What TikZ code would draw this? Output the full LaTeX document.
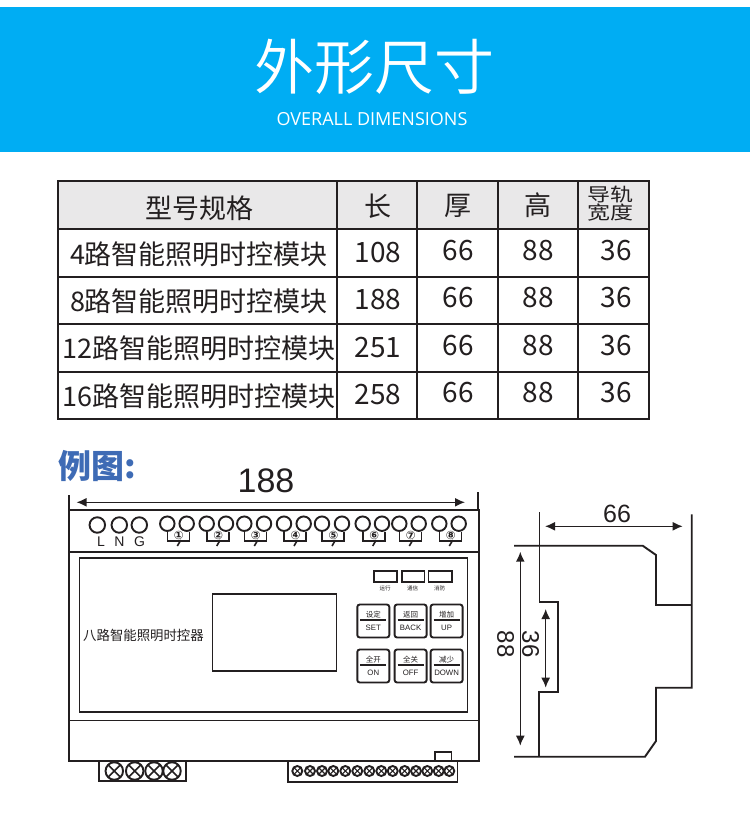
\documentclass[tikz,border=0pt]{standalone}
\usepackage{fontspec}
\usetikzlibrary{arrows.meta}
\setmainfont{Liberation Sans}
\newfontfamily\cjk{Noto Sans CJK SC}
\newfontfamily\cjklight{Noto Sans CJK SC DemiLight}
\newfontfamily\sym{DejaVu Sans}
\newfontfamily\ops{Open Sans}
\definecolor{band}{HTML}{00ADF3}
\definecolor{ink}{HTML}{231F20}
\definecolor{head}{HTML}{E9E8E9}
\definecolor{titleblue}{HTML}{3E6BB5}
\newcommand{\fs}[1]{\fontsize{#1}{#1}\selectfont}
\tikzset{
  txt/.style={inner sep=0pt,outer sep=0pt,text=ink},
  tt/.style={txt,font=\cjk\fs{27}},
  nn/.style={txt,font=\cjk\fs{28}},
  dimtxt/.style={txt,font=\fs{#1}},
  cell/.style={draw=ink,line width=2.4pt,inner sep=0pt,outer sep=0pt,anchor=north west},
  ln/.style={draw=ink,line width=1.9pt},
  thin/.style={draw=ink,line width=1.6pt},
  dimline/.style={draw=ink,line width=1.5pt,{Latex[length=10pt,width=9pt]}-{Latex[length=10pt,width=9pt]}},
  term/.style={circle,draw=ink,line width=1.9pt,inner sep=0pt,outer sep=0pt,minimum size=#1},
  box/.style={draw=ink,line width=1.9pt,inner sep=0pt,outer sep=0pt,anchor=north west},
  btn/.style={draw=ink,line width=1.9pt,rounded corners=2.5pt,inner sep=0pt,outer sep=0pt,anchor=north west,minimum width=32pt,minimum height=33pt},
  bc/.style={txt,font=\cjk\fs{7.5}},
  bl/.style={txt,font=\fs{7.8}},
  led/.style={txt,font=\cjk\fs{5.5}}
}
\begin{document}
\begin{tikzpicture}[x=1pt,y=-1pt]
\useasboundingbox (0,0) rectangle (750,839);
\fill[white] (0,0) rectangle (750,839);
\fill[band] (0,7) rectangle (750,152);
\node[txt,text=white,font=\cjklight\fs{60}] (title) at (374,67) {外形尺寸};
\node[txt,text=white,font=\ops\fs{18}] (sub) at (372,119.5) {OVERALL DIMENSIONS};
% table
\def\tcell#1#2#3#4#5#6{\node[cell,fill=#6,minimum width=#4pt,minimum height=#5pt] (#1) at (#2,#3) {};}
\foreach \n/\xx/\w in {a/58/279,b/337/80,c/417/81,d/498/80,e/578/71}{
  \tcell{\n0}{\xx}{181}{\w}{48}{head}
  \tcell{\n1}{\xx}{229}{\w}{48}{white}
  \tcell{\n2}{\xx}{277}{\w}{47}{white}
  \tcell{\n3}{\xx}{324}{\w}{48}{white}
  \tcell{\n4}{\xx}{372}{\w}{47}{white}
}
\node[tt] (h1) at (199,208) {型号规格};
\node[tt] (h2) at (378,206) {长};
\node[tt] (h3) at (458,206) {厚};
\node[tt] (h4) at (538,205) {高};
\node[txt,font=\cjk\fs{23},yscale=.8,align=center] (h5) at (610,204) {导轨\\[-.02em]宽度};
\node[tt] (r1) at (199,254) {4路智能照明时控模块};
\node[tt] (r2) at (199,301) {8路智能照明时控模块};
\node[tt] (r3) at (199,348) {12路智能照明时控模块};
\node[tt] (r4) at (199,396) {16路智能照明时控模块};
\foreach \i/\yy/\l in {1/253/108,2/300/188,3/348/251,4/395/258}{
  \node[nn] (l\i) at (378,\yy) {\l};
  \node[nn] (t\i) at (458,\yy-2) {66};
  \node[nn] (g\i) at (538,\yy-2) {88};
  \node[nn] (w\i) at (616,\yy-2) {36};
}
% example heading
\node[txt,text=titleblue,font=\cjk\bfseries\fs{33}] (ex) at (97,466) {例图:};
% front view
\node[box,minimum width=410pt,minimum height=251pt] (body) at (69,510) {};
\draw[ln] (69,552) -- (479,552);
\draw[ln] (69,720.5) -- (479,720.5);
\node[box,minimum width=388pt,minimum height=154pt] (panel) at (79.5,558) {};
\node[box,minimum width=124pt,minimum height=77pt] (screen) at (212.5,594) {};
\node[txt,font=\cjk\fs{13.4}] (name) at (143.5,635) {八路智能照明时控器};
% top dimension
\coordinate (dl0) at (69,510); \coordinate (dl1) at (69,495);
\coordinate (dr0) at (478,510); \coordinate (dr1) at (478,492);
\coordinate (da) at (76.5,502.3); \coordinate (db) at (465,502.3);
\draw[ln] (dl0) -- (dl1); \draw[ln] (dr0) -- (dr1);
\draw[dimline] (da) -- (db);
\node[dimtxt=34] (d188) at (266,481) {188};
% L N G
\foreach \n/\xx/\lab/\lx in {L/97.3/L/101,N/119.3/N/119.5,G/139.3/G/139.5}{
  \node[term=15.5pt] (p\n) at (\xx,525) {};
  \node[dimtxt=14] (q\n) at (\lx,541.5) {\lab};
}
% switched terminals
\foreach \i/\a/\b/\m in {1/167.3/186.7/①,2/206.7/226/②,3/244.3/264/③,4/284/303.7/④,5/322/342/⑤,6/362.7/382/⑥,7/399.3/418.7/⑦,8/439.3/458.7/⑧}{
  \node[term=14.5pt] (sa\i) at (\a,523.7) {};
  \node[term=14.5pt] (sb\i) at (\b,523.7) {};
  \draw[thin] (\a,532) -- (\a,541) -- (\a+22,541) -- (\a+22,532);
  \node[txt,fill=white,font=\sym\bfseries\fs{11.5},inner sep=0pt] (sn\i) at (\a+11.5,535) {\m};
  \draw[thin] (\a+13.5,540) -- (\a+10,546);
}
% LEDs
\foreach \n/\xx/\w/\lab/\cx in {a/374.2/23/运行/385,b/401.8/22.7/通信/412.5,c/428.5/23.7/消防/439.5}{
  \node[box,minimum width=\w pt,minimum height=11pt] (led\n) at (\xx,571) {};
  \node[led] (ledt\n) at (\cx,588.7) {\lab};
}
% buttons
\foreach \n/\xx/\yy/\zh/\en in {s/357.3/604.5/设定/SET,b/394.6/604.5/返回/BACK,u/430.6/604.5/增加/UP,o/357.3/649.5/全开/ON,f/394.6/649.5/全关/OFF,d/430.6/649.5/减少/DOWN}{
  \node[btn] (b\n) at (\xx,\yy) {};
  \draw[thin] (\xx+3,\yy+15.5) -- (\xx+29,\yy+15.5);
  \node[bc] (bz\n) at (\xx+16,\yy+10) {\zh};
  \node[bl] (be\n) at (\xx+16,\yy+23) {\en};
}
% bottom blocks
\node[box,minimum width=87.5pt,minimum height=20.5pt] (cl) at (98.8,760.7) {};
\node[box,minimum width=169.5pt,minimum height=21.5pt] (cr) at (288,760.7) {};
\node[box,minimum width=16.5pt,minimum height=8.5pt] (tab) at (435,752.3) {};
\foreach \i/\xx in {1/114.3,2/134.7,3/154,4/172}{
  \node[term=17.5pt] (u\i) at (\xx,771) {};
  \draw[thin] (u\i.north west) -- (u\i.south east) (u\i.north east) -- (u\i.south west);
}
\foreach \i/\xx in {1/297.3,2/310,3/322,4/333.3,5/345.3,6/357.3,7/369.3,8/381.3,9/392.7,10/404.7,11/416,12/427.3,13/438.7,14/449.3}{
  \node[term=10pt] (v\i) at (\xx,771) {};
  \draw[draw=ink,line width=1.1pt] (v\i.north west) -- (v\i.south east) (v\i.north east) -- (v\i.south west);
}
% side view
\draw[ln,line join=miter] (514,545.7) -- (642.7,545.7) -- (656,555) -- (656,605) -- (691.7,605);
\draw[ln] (691.7,514.3) -- (691.7,687.7) -- (656,687.7) -- (656,741) -- (645,756.7) -- (514,756.7);
\draw[ln] (539.5,512.3) -- (539.5,601.7) -- (557.7,601.7) -- (557.7,691.7) -- (539,691.7) -- (539,756.7);
\coordinate (s66a) at (545,526.3); \coordinate (s66b) at (682.7,526.3);
\coordinate (s88a) at (520.3,551.7); \coordinate (s88b) at (520.3,745.7);
\coordinate (s36a) at (545.7,609); \coordinate (s36b) at (545.7,687.7);
\draw[dimline] (s66a) -- (s66b);
\draw[dimline] (s88a) -- (s88b);
\draw[dimline] (s36a) -- (s36b);
\node[dimtxt=25] (t66) at (617,514) {66};
\node[dimtxt=24,rotate=-90] (t88) at (505.7,644) {88};
\node[dimtxt=24,rotate=-90] (t36) at (530.7,644) {36};
\end{tikzpicture}
\end{document}
